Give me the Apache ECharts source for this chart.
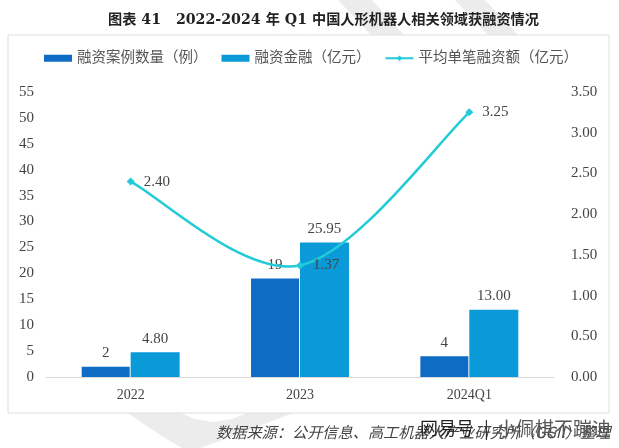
<!DOCTYPE html>
<html><head><meta charset="utf-8"><style>html,body{margin:0;padding:0;background:#fff}#c{width:619px;height:448px}</style>
<script src="https://cdn.jsdelivr.net/npm/echarts@6/dist/echarts.min.js"></script></head>
<body><div id="c"></div><script>
const categories=['2022','2023','2024Q1'];
const caseCount=[2,19,4];
const amount=[4.80,25.95,13.00];
const average=[2.40,1.37,3.25];
const names=['融资案例数量（例）','融资金融（亿元）','平均单笔融资额（亿元）'];
const titleText='图表 41   2022-2024 年 Q1 中国人形机器人相关领域获融资情况';
const sourceText='数据来源：公开信息、高工机器人产业研究所（GGII）整理';
const markA='网易号';
const markB='小佩棋不蹦迪';
const serif='"Liberation Serif","Noto Sans CJK SC",serif';
const band='#ececec';
const lineColor='#22cbd8';
const ch=echarts.init(document.getElementById('c'),null,{renderer:'canvas'});
// Excel-style smooth curve: the tangent at a point follows its neighbours, so it may overshoot.
function curveItem(params,api){
 const i=params.dataIndex;
 if(i>=average.length-1) return null;
 const p=average.map((v,k)=>api.coord([k,v]));
 const a=p[i],b=p[i+1],before=p[i-1]||a,after=p[i+2]||b,k=1/6;
 return {type:'bezierCurve',silent:true,
  shape:{x1:a[0],y1:a[1],x2:b[0],y2:b[1],
   cpx1:a[0]+(b[0]-before[0])*k,cpy1:a[1]+(b[1]-before[1])*k,
   cpx2:b[0]-(after[0]-a[0])*k,cpy2:b[1]-(after[1]-a[1])*k},
  style:{stroke:lineColor,lineWidth:2.5,fill:null}};
}
ch.setOption({
 animation:false,backgroundColor:'#fff',
 title:{text:titleText,left:103,top:8,textStyle:{fontFamily:'"DejaVu Serif","Noto Sans CJK SC",serif',fontSize:14.2,fontWeight:'bold',color:'#222'}},
 graphic:[
  {type:'polygon',z:-2,silent:true,shape:{points:[[338,0],[372,0],[405,36],[372,36]]},style:{fill:band}},
  {type:'polygon',z:-2,silent:true,shape:{points:[[455,0],[485,0],[519,36],[489,36]]},style:{fill:band}},
  {type:'polygon',z:-2,silent:true,shape:{points:[[128,413],[145,425],[165,438],[182,448],[200,448],[228,438],[262,425],[293,413],[247,413],[232,419],[213,422],[195,419],[180,413]]},style:{fill:band}},
  {type:'rect',z:-1,silent:true,shape:{x:8,y:35,width:601,height:378},style:{fill:'#fff',stroke:'#dedede',lineWidth:1}},
  {type:'text',z:5,silent:true,left:216,top:425,style:{text:sourceText,font:'italic 15.2px "Noto Sans CJK SC",sans-serif',fill:'#444'}},
  {type:'text',z:6,silent:true,left:420,top:419,style:{text:markA,font:'18px "Noto Sans CJK SC",sans-serif',fill:'#222'}},
  {type:'text',z:6,silent:true,left:484,top:419,style:{text:'|',font:'18px "Noto Sans CJK SC",sans-serif',fill:'#333'}},
  {type:'text',z:6,silent:true,left:497,top:419,style:{text:markB,font:'19px "Noto Sans CJK SC",sans-serif',fill:'#555'}}
 ],
 legend:{top:46,left:39,itemGap:14,itemWidth:28,itemHeight:7,
  data:[{name:names[0],icon:'rect'},{name:names[1],icon:'rect'},{name:names[2],lineStyle:{color:lineColor,width:2,opacity:1}}],
  textStyle:{fontFamily:serif,fontSize:14.5,color:'#555'}},
 grid:{left:46,right:65,top:92,bottom:71},
 xAxis:{type:'category',data:categories,axisTick:{show:false},axisLine:{lineStyle:{color:'#d9d9d9'}},axisLabel:{fontFamily:serif,fontSize:14,color:'#444',margin:11}},
 yAxis:[
  {type:'value',min:0,max:55,interval:5,splitLine:{show:false},axisLine:{show:false},axisTick:{show:false},axisLabel:{fontFamily:serif,fontSize:15,color:'#444',margin:12}},
  {type:'value',min:0,max:3.5,interval:0.5,splitLine:{show:false},axisLine:{show:false},axisTick:{show:false},axisLabel:{fontFamily:serif,fontSize:15,color:'#444',margin:17,formatter:v=>v.toFixed(2)}}
 ],
 series:[
  {name:names[0],type:'bar',data:caseCount,barWidth:48,barGap:'2%',itemStyle:{color:'#0f6cc4'},label:{show:true,position:'top',distance:6,fontFamily:serif,fontSize:15,color:'#444'}},
  {name:names[1],type:'bar',data:amount,barWidth:49,itemStyle:{color:'#0a9ad8'},label:{show:true,position:'top',distance:6,fontFamily:serif,fontSize:15,color:'#444',formatter:p=>p.value.toFixed(2)}},
  {name:'curve',type:'custom',yAxisIndex:1,z:3,silent:true,data:average.map((v,i)=>[i,v]),renderItem:curveItem,encode:{x:0,y:1}},
  {name:names[2],type:'line',yAxisIndex:1,data:average,symbol:'diamond',symbolSize:8,z:4,lineStyle:{width:0,opacity:0},itemStyle:{color:lineColor},label:{show:true,position:'right',distance:9,fontFamily:serif,fontSize:15,color:'#444',formatter:p=>p.value.toFixed(2)}}
 ]
});
</script></body></html>
